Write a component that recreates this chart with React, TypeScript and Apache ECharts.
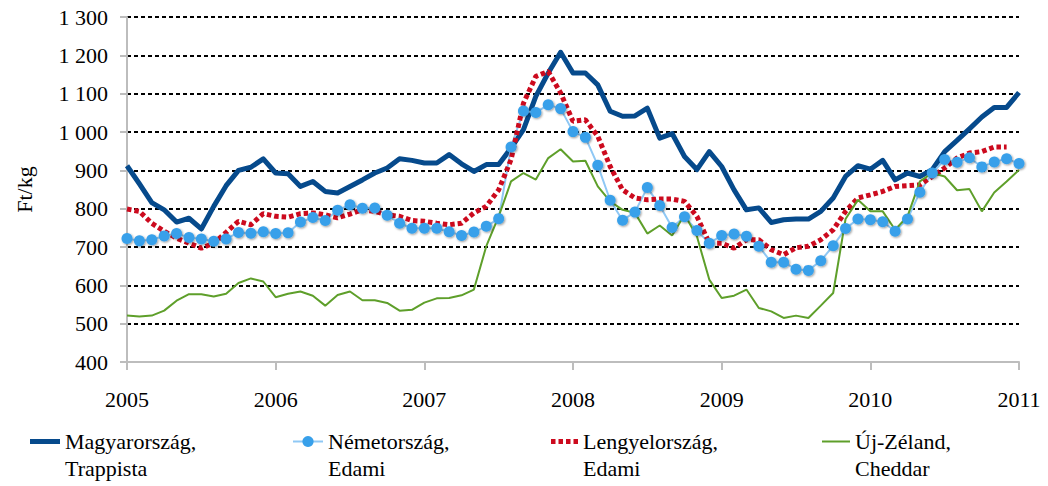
import React, { useEffect, useRef } from "react";
import * as echarts from "echarts";

const yearLabels = ["2005", "2006", "2007", "2008", "2009", "2010", "2011"];

const seriesNames = [
  "Magyarország,\nTrappista",
  "Németország,\nEdami",
  "Lengyelország,\nEdami",
  "Új-Zéland,\nCheddar",
];

const hungary = [
  912, 865, 816, 797, 765, 775, 747, 806, 860, 900, 908, 930,
  893, 891, 858, 871, 845, 841, 858, 875, 893, 906, 930, 926,
  919, 919, 941, 917, 897, 915, 915, 958, 1006, 1093, 1154, 1208,
  1154, 1154, 1123, 1054, 1041, 1042, 1062, 984, 996, 936, 902, 949,
  910, 849, 797, 802, 764, 771, 773, 773, 793, 828, 884, 912,
  903, 926, 875, 893, 884, 902, 949, 978, 1008, 1039, 1064, 1064,
  1103,
];

const germany = [
  722, 716, 719, 729, 735, 725, 721, 715, 721, 738, 736, 740,
  735, 737, 765, 777, 769, 796, 810, 801, 802, 783, 762, 749,
  749, 749, 740, 730, 739, 754, 774, 961, 1055, 1051, 1071, 1061,
  1001, 986, 913, 822, 770, 791, 855, 808, 751, 779, 743, 710,
  730, 734, 728, 702, 660, 660, 642, 639, 664, 703, 748, 773,
  771, 766, 741, 773, 843, 893, 928, 921, 933, 909, 922, 930,
  918,
];

const poland = [
  799, 793, 762, 741, 723, 710, 697, 710, 738, 767, 758, 787,
  780, 778, 787, 789, 784, 776, 786, 797, 793, 784, 780, 769,
  767, 762, 758, 762, 789, 806, 849, 928, 1075, 1145, 1158, 1102,
  1028, 1032, 989, 910, 849, 828, 823, 825, 825, 819, 780, 710,
  710, 697, 719, 719, 693, 680, 698, 702, 719, 745, 793, 828,
  836, 845, 858, 860, 862, 884, 906, 932, 945, 949, 961, 961,
  null,
];

const newZealand = [
  521, 519, 521, 534, 560, 577, 577, 571, 578, 606, 618, 610,
  569, 578, 584, 573, 547, 575, 584, 561, 561, 554, 534, 536,
  555, 566, 567, 574, 589, 702, 780, 871, 893, 876, 932, 955,
  923, 925, 858, 819, 797, 789, 735, 756, 730, 784, 728, 615,
  567, 573, 589, 541, 532, 515, 521, 515, 547, 580, 773, 823,
  793, 793, 745, 780, 871, 893, 884, 848, 851, 793, 842, 871,
  901,
];

const months = ["01", "02", "03", "04", "05", "06", "07", "08", "09", "10", "11", "12"];
const categories: string[] = [];
yearLabels.slice(0, 6).forEach((y) => months.forEach((m) => categories.push(y + "-" + m)));
categories.push(yearLabels[6] + "-01");

const FONT = "'Liberation Serif', 'DejaVu Serif', serif";
const AXIS_GRAY = "#bdbdbd";
const C_HU = "#064a8c";
const C_DE_LINE = "#8fc8f5";
const C_DE = "#38a0ea";
const C_PL = "#cc0a1e";
const C_NZ = "#5e9f2a";

function fmtY(v: number): string {
  if (v >= 1000) {
    const t = Math.floor(v / 1000);
    const r = String(v % 1000).padStart(3, "0");
    return t + " " + r;
  }
  return String(v);
}

export default function App() {
  const ref = useRef<HTMLDivElement>(null);
  useEffect(() => {
    if (!ref.current) return;
    const chart = echarts.init(ref.current, null, { renderer: "svg" });
    const legendTextStyle = {
      fontFamily: FONT,
      fontSize: 22,
      color: "#000",
      lineHeight: 27,
    };
    const legendTop = 401;
    const legendFormatter = (name: string) => "\n" + name;
    chart.setOption({
      animation: false,
      backgroundColor: "#fff",
      textStyle: { fontFamily: FONT },
      grid: { left: 127, right: 29, top: 17, bottom: 124, containLabel: false },
      legend: [
        {
          data: [seriesNames[0]],
          left: 30,
          top: legendTop,
          padding: 0,
          icon: "rect",
          itemWidth: 30,
          itemHeight: 5,
          itemStyle: { color: C_HU },
          textStyle: legendTextStyle,
          formatter: legendFormatter,
          selectedMode: false,
        },
        {
          data: [seriesNames[1]],
          left: 292,
          top: legendTop,
          padding: 0,
          itemWidth: 30,
          itemHeight: 14,
          textStyle: legendTextStyle,
          formatter: legendFormatter,
          selectedMode: false,
        },
        {
          data: [seriesNames[2]],
          left: 551,
          top: legendTop,
          padding: 0,
          icon: "path://M0,0h4.5v5h-4.5z M7.5,0h4.5v5h-4.5z M15,0h4.5v5h-4.5z M22.5,0h4.5v5h-4.5z",
          itemWidth: 27,
          itemHeight: 5,
          itemStyle: { color: C_PL },
          textStyle: legendTextStyle,
          formatter: legendFormatter,
          selectedMode: false,
        },
        {
          data: [seriesNames[3]],
          left: 822,
          top: legendTop,
          padding: 0,
          icon: "rect",
          itemWidth: 28,
          itemHeight: 2,
          itemStyle: { color: C_NZ },
          textStyle: legendTextStyle,
          formatter: legendFormatter,
          selectedMode: false,
        },
      ],
      xAxis: {
        type: "category",
        data: categories,
        boundaryGap: false,
        axisLine: { lineStyle: { color: AXIS_GRAY, width: 2 } },
        axisTick: {
          show: true,
          length: 8,
          interval: (i: number) => i % 12 === 0,
          lineStyle: { color: AXIS_GRAY, width: 2 },
        },
        axisLabel: {
          interval: (i: number) => i % 12 === 0,
          formatter: (v: string) => v.slice(0, 4),
          fontFamily: FONT,
          fontSize: 22,
          color: "#000",
          margin: 26,
        },
        splitLine: { show: false },
      },
      yAxis: {
        type: "value",
        min: 400,
        max: 1300,
        interval: 100,
        name: "Ft/kg",
        nameLocation: "middle",
        nameRotate: 90,
        nameGap: 92,
        nameTextStyle: { fontFamily: FONT, fontSize: 22, color: "#000" },
        axisLine: { show: true, lineStyle: { color: AXIS_GRAY, width: 2 } },
        axisTick: { show: true, length: 7, lineStyle: { color: AXIS_GRAY, width: 2 } },
        axisLabel: {
          formatter: fmtY,
          fontFamily: FONT,
          fontSize: 22,
          color: "#000",
          margin: 19,
        },
        splitLine: {
          show: true,
          showMinLine: false,
          lineStyle: { color: "#000", width: 2, type: [4, 3] },
        },
      },
      series: [
        {
          name: seriesNames[0],
          type: "line",
          data: hungary,
          symbol: "none",
          showSymbol: false,
          lineStyle: { color: C_HU, width: 5, join: "round" },
          itemStyle: { color: C_HU },
        },
        {
          name: seriesNames[1],
          type: "line",
          data: germany,
          symbol: "circle",
          symbolSize: 11,
          showSymbol: true,
          showAllSymbol: true,
          lineStyle: { color: C_DE_LINE, width: 2 },
          itemStyle: {
            color: C_DE,
            shadowColor: "rgba(0,0,0,0.4)",
            shadowBlur: 2,
            shadowOffsetX: 1,
            shadowOffsetY: 1,
          },
        },
        {
          name: seriesNames[2],
          type: "line",
          data: poland,
          symbol: "none",
          showSymbol: false,
          connectNulls: false,
          lineStyle: { color: C_PL, width: 5, type: [4.5, 3], cap: "butt" },
          itemStyle: { color: C_PL },
        },
        {
          name: seriesNames[3],
          type: "line",
          data: newZealand,
          symbol: "none",
          showSymbol: false,
          lineStyle: { color: C_NZ, width: 2 },
          itemStyle: { color: C_NZ },
        },
      ],
    });
    return () => chart.dispose();
  }, []);
  return (
    <div
      ref={ref}
      style={{ position: "absolute", left: 0, top: 0, width: 1048, height: 486, background: "#fff" }}
    />
  );
}
